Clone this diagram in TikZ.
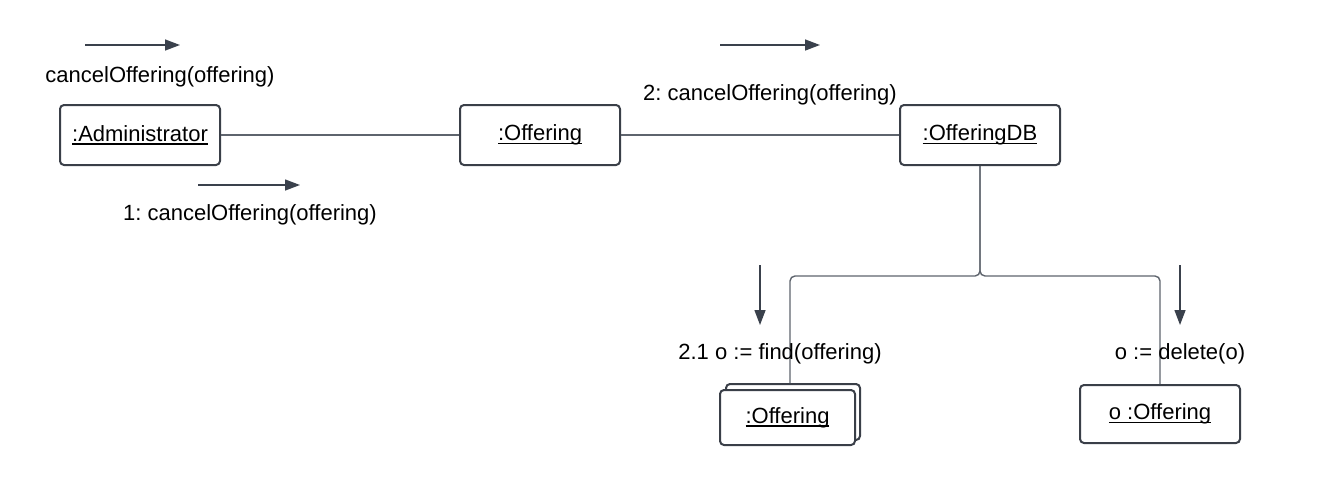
\documentclass[tikz,border=0pt]{standalone}
\usepackage{fontspec}
\setmainfont{Liberation Sans}
\usetikzlibrary{arrows.meta}
\definecolor{boxcol}{HTML}{3A3F48}
\definecolor{linecol}{HTML}{5E646D}
\definecolor{arrcol}{HTML}{3A414C}
\newcommand\myul[1]{\setbox0\hbox{#1}\rlap{\vrule width \wd0 height -2pt depth 3.5pt}\box0}
\frenchspacing
\begin{document}
\begin{tikzpicture}[x=1pt,y=-1pt,
  every node/.style={font=\fontsize{22}{26}\selectfont, text=black},
  objbox/.style={draw=boxcol, line width=2pt, rounded corners=4pt, fill=white,
    minimum width=160pt, minimum height=60pt, inner sep=0pt},
  conn/.style={draw=linecol, line width=1.4pt},
  msg/.style={draw=arrcol, line width=1.4pt, -{Triangle[length=15pt,width=11pt]}},
  lbl/.style={anchor=base, inner sep=0pt}
]
\useasboundingbox (0,0) rectangle (1340,491);
% objects
\node[objbox] (admin) at (140,135) {\myul{:Administrator}};
\node[objbox] (off) at (540,135) {\myul{:Offering}};
\node[objbox] (db) at (980,135) {\myul{:OfferingDB}};
\node[objbox, minimum width=134pt, minimum height=56pt] (back) at (793,412) {};
\node[objbox, minimum width=135pt, minimum height=55pt] (front) at (787.5,417.5) {\myul{:Offering}};
\node[objbox, minimum width=160pt, minimum height=58pt] (oo) at (1160,414) {\myul{o :Offering}};
% links
\draw[conn] (admin.east) -- (off.west);
\draw[conn] (off.east) -- (db.west);
\draw[conn, rounded corners=5pt] (db.south) -- ++(0,110) -| ([xshift=-3pt]back.north);
\draw[conn, rounded corners=5pt] (db.south) -- ++(0,110) -| (oo.north);
% message arrows
\coordinate (a1s) at (85,45);   \coordinate (a1e) at (180,45);
\coordinate (a2s) at (198,185); \coordinate (a2e) at (300,185);
\coordinate (a3s) at (720,45);  \coordinate (a3e) at (820,45);
\coordinate (a4s) at (760,265); \coordinate (a4e) at (760,325);
\coordinate (a5s) at (1180,265);\coordinate (a5e) at (1180,325);
\draw[msg] (a1s) -- (a1e);
\draw[msg] (a2s) -- (a2e);
\draw[msg] (a3s) -- (a3e);
\draw[msg] (a4s) -- (a4e);
\draw[msg] (a5s) -- (a5e);
% labels
\node[lbl] (l1) at (160,82) {cancelOffering(offering)};
\node[lbl] (l2) at (250,220) {1: cancelOffering(offering)};
\node[lbl] (l3) at (770,100) {2: cancelOffering(offering)};
\node[lbl] (l4) at (780,359) {2.1 o := find(offering)};
\node[lbl] (l5) at (1180,359) {o := delete(o)};
\end{tikzpicture}
\end{document}
